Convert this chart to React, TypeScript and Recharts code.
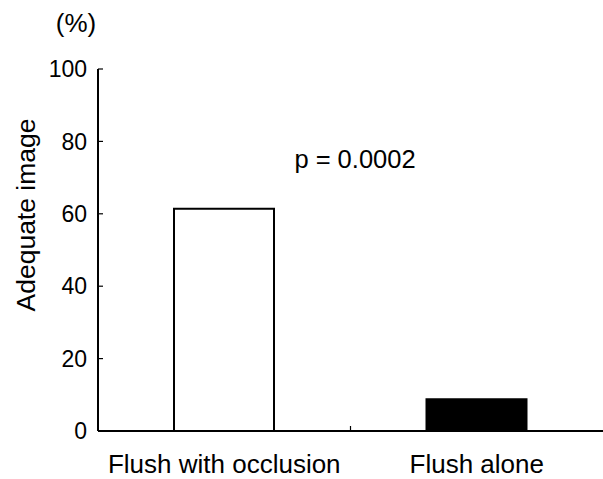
import React from 'react';
import { BarChart, Bar, XAxis, YAxis, Cell, Label, Customized } from 'recharts';

const categories = ['Flush with occlusion', 'Flush alone'];
const adequateImage = [61.4, 8.8];
const barFills = ['#ffffff', '#000000'];
const yTicks = [0, 20, 40, 60, 80, 100];
const yAxisTitle = 'Adequate image';
const unitLabel = '(%)';
const pValueText = 'p = 0.0002';

const data = categories.map((c, i) => ({ name: c, value: adequateImage[i] }));

const FONT = '"Liberation Sans", Arial, Helvetica, sans-serif';
const Y_TICK_MARGIN = 11;
const X_TICK_MARGIN = 24;

const YTick = (props: any) => {
  const { x, y, payload } = props;
  const ax = x + Y_TICK_MARGIN;
  return (
    <g>
      <line x1={ax} x2={ax + 5} y1={y} y2={y} stroke="#000" strokeWidth={1.2} />
      <text x={x} y={y} dy="0.36em" textAnchor="end" fontSize={23} fontFamily={FONT} fill="#000">
        {payload.value}
      </text>
    </g>
  );
};

const XTick = (props: any) => {
  const { x, y, payload, index, width, visibleTicksCount } = props;
  const axisY = y - X_TICK_MARGIN;
  const half = payload && typeof payload.offset === 'number' && payload.offset > 0
    ? payload.offset
    : width / (visibleTicksCount || categories.length) / 2;
  return (
    <g>
      {index < categories.length - 1 ? (
        <line x1={x + half} x2={x + half} y1={axisY} y2={axisY - 5} stroke="#000" strokeWidth={1.2} />
      ) : null}
      <text x={x} y={y} dy="0.71em" textAnchor="middle" fontSize={26} fontFamily={FONT} fill="#000">
        {payload.value}
      </text>
    </g>
  );
};

const YTitle = (props: any) => {
  const { viewBox } = props;
  const cx = viewBox.x + 26;
  const cy = viewBox.y + viewBox.height / 2 - 35;
  return (
    <text x={cx} y={cy} transform={`rotate(-90 ${cx} ${cy})`} textAnchor="middle" dominantBaseline="central"
      fontSize={26.5} fontFamily={FONT} fill="#000">
      {yAxisTitle}
    </text>
  );
};

const UnitTitle = (props: any) => {
  const { viewBox } = props;
  return (
    <text x={viewBox.x + 76} y={32} textAnchor="middle" fontSize={26} fontFamily={FONT} fill="#000">
      {unitLabel}
    </text>
  );
};

const PValue = () => (
  <text x={355} y={168} textAnchor="middle" fontSize={25.5} fontFamily={FONT} fill="#000">
    {pValueText}
  </text>
);

export default function App() {
  return (
    <div style={{ position: 'absolute', left: 0, top: 0, width: 603, height: 479, background: '#fff' }}>
      <BarChart width={603} height={479} data={data} margin={{ top: 69, right: 0, left: 0, bottom: 0 }} barSize={100}>
        <XAxis
          dataKey="name"
          height={48}
          axisLine={{ stroke: '#000', strokeWidth: 2 }}
          tickLine={false}
          tickSize={0}
          tickMargin={X_TICK_MARGIN}
          tick={<XTick />}
          interval={0}
        />
        <YAxis
          width={98}
          domain={[0, 100]}
          ticks={yTicks}
          axisLine={{ stroke: '#000', strokeWidth: 2 }}
          tickLine={false}
          tickSize={0}
          tickMargin={Y_TICK_MARGIN}
          tick={<YTick />}
          interval={0}
        >
          <Label content={<YTitle />} />
          <Label content={<UnitTitle />} />
        </YAxis>
        <Bar dataKey="value" stroke="#000" strokeWidth={2} isAnimationActive={false}>
          {data.map((d, i) => (
            <Cell key={d.name} fill={barFills[i]} />
          ))}
        </Bar>
        <Customized component={PValue} />
      </BarChart>
    </div>
  );
}
